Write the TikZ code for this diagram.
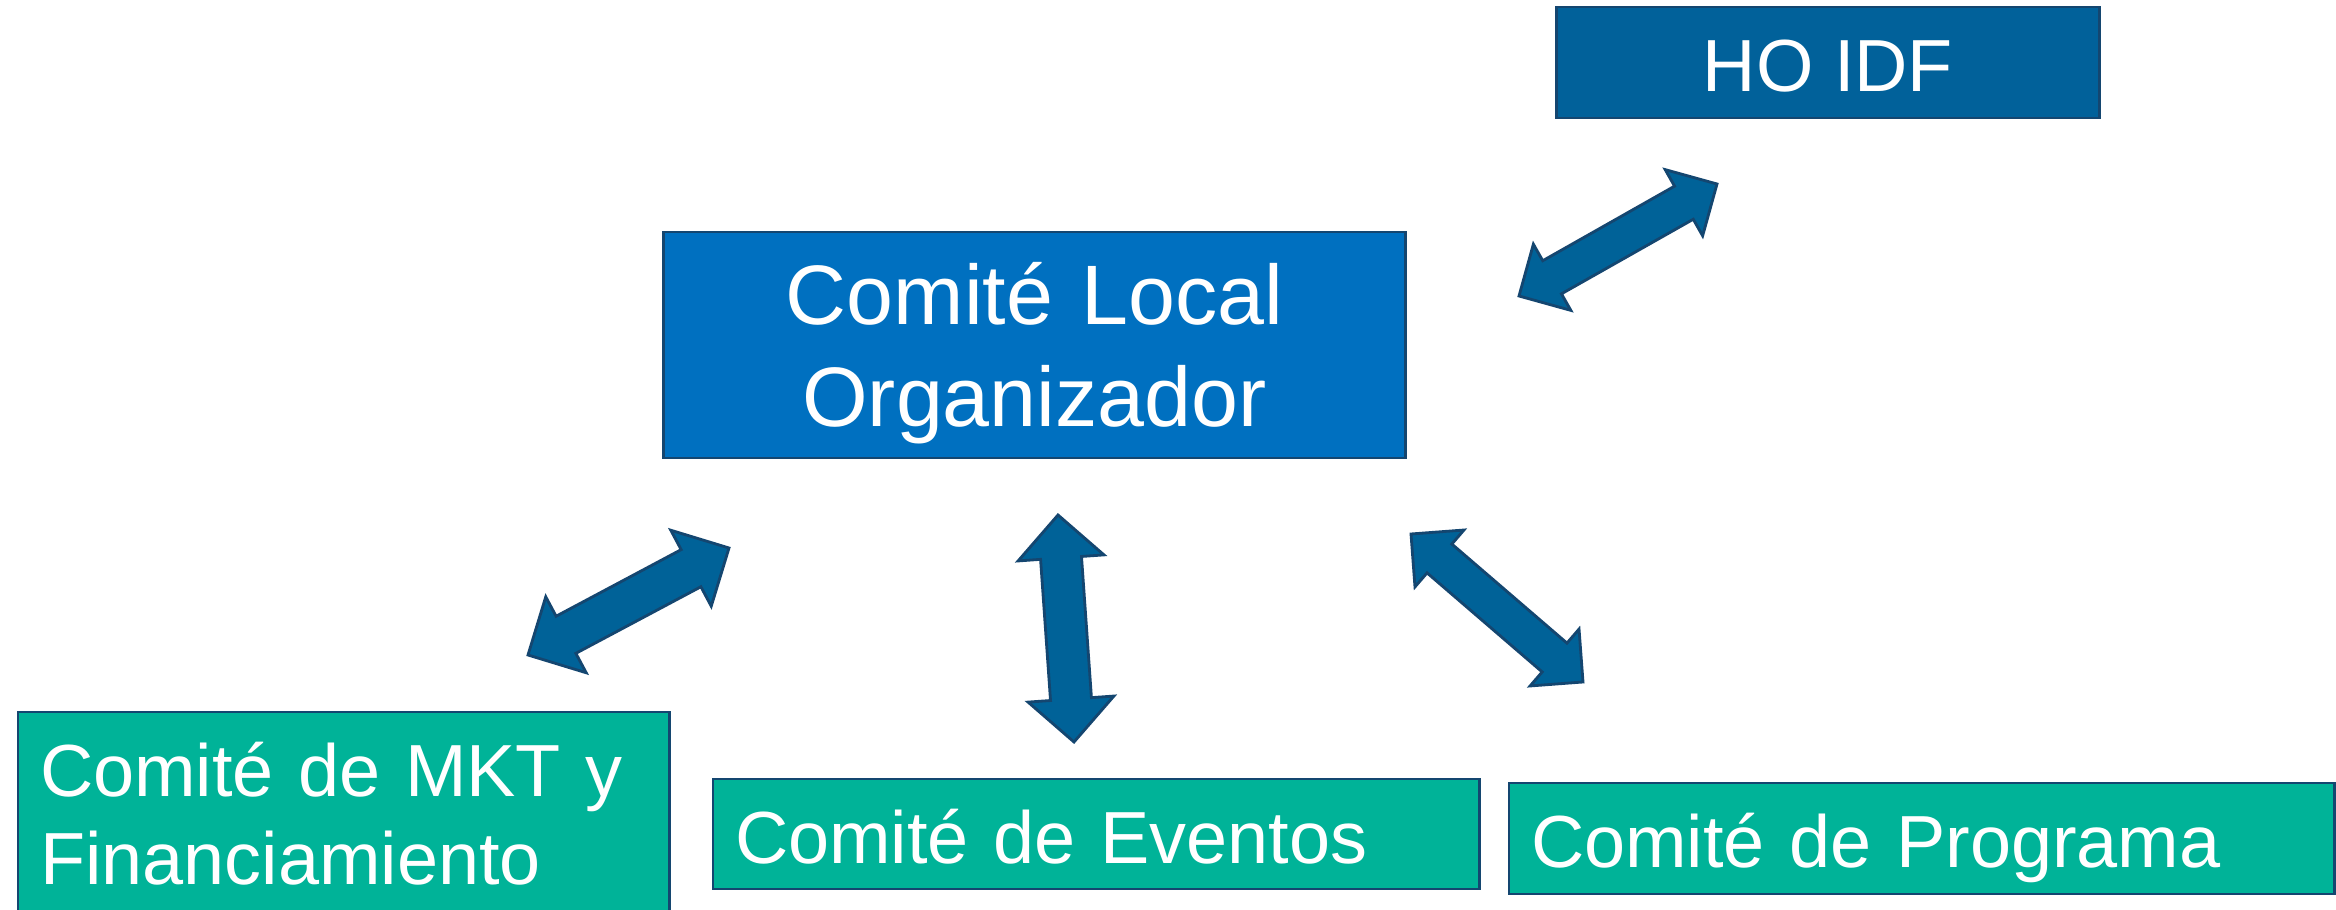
\documentclass[tikz,border=0pt]{standalone}
\usepackage{fontspec}
\setmainfont{Liberation Sans}
\usetikzlibrary{positioning,calc}
\definecolor{hoblue}{RGB}{1,97,154}
\definecolor{cloblue}{RGB}{0,112,192}
\definecolor{comgreen}{RGB}{0,179,152}
\definecolor{edgenavy}{RGB}{20,70,112}
\definecolor{arrowblue}{RGB}{0,98,152}

\newcommand\boxfont{\fontsize{21}{25.2}\selectfont}
\newcommand\clofont{\fontsize{24}{28.8}\selectfont}
% block arrow with a head at both ends, between two named coordinates
% #3 = head length and half head width, #4 = half shaft width
\newcommand\dblarrow[4]{%
  \filldraw[arrowbody] (#1)
    -- ($(#1)!#3!(#2)!#3!90:(#2)$)
    -- ($(#1)!#3!(#2)!#4!90:(#2)$)
    -- ($(#2)!#3!(#1)!#4!-90:(#1)$)
    -- ($(#2)!#3!(#1)!#3!-90:(#1)$)
    -- (#2)
    -- ($(#2)!#3!(#1)!#3!90:(#1)$)
    -- ($(#2)!#3!(#1)!#4!90:(#1)$)
    -- ($(#1)!#3!(#2)!#4!-90:(#2)$)
    -- ($(#1)!#3!(#2)!#3!-90:(#2)$)
    -- cycle;}

\tikzset{
  comite/.style={draw=edgenavy, line width=0.8pt, text=white, inner sep=0pt, outer sep=0pt},
  onerow/.style={text height=0.58cm, text depth=0pt, font=\boxfont},
  greenbox/.style={comite, fill=comgreen, inner xsep=0.22cm, align=left},
  arrowbody/.style={fill=arrowblue, draw=edgenavy, line width=0.8pt, line join=miter}
}

\begin{document}
\begin{tikzpicture}[x=0.01cm, y=-0.01cm]
  \clip (0,0) rectangle (2336,910);
  \fill[white] (0,0) rectangle (2336,910);
  % boxes
  \node [comite, onerow, fill=hoblue, minimum width=5.42cm, minimum height=1.11cm] (HO) at (1828,62.5) {HO IDF};
  \node [comite, fill=cloblue, minimum width=7.41cm, minimum height=2.26cm, text width=7cm, align=center,
         text height=0.62cm, text depth=1.02cm, font=\clofont] (CLO) at (1034.5,345) {Comité Local\\Organizador};
  \node [greenbox, anchor=north west, minimum width=6.51cm, text width=6.07cm, inner ysep=0.24cm,
         text height=0.6cm, text depth=3cm, font=\boxfont] (MKT) at (18,712) {Comité de MKT y\\Financiamiento};
  \node [greenbox, onerow, anchor=west, minimum width=7.66cm, minimum height=1.10cm, text width=7.22cm] (EVT) at (713,834) {Comité de Eventos};
  \node [greenbox, onerow, anchor=west, minimum width=8.25cm, minimum height=1.11cm, text width=7.81cm] (PRG) at (1509,838.5) {Comité de Programa};
  % arrow ends
  \coordinate (hoA) at (1519,296);
  \coordinate (hoB) at (1717,184);
  \coordinate (mktA) at (528,655);
  \coordinate (mktB) at (729,548);
  \coordinate (evtA) at (1058,515);
  \coordinate (evtB) at (1074,742);
  \coordinate (prgA) at (1411,534);
  \coordinate (prgB) at (1583,682);
  % arrows
  \dblarrow{hoA}{hoB}{0.38cm}{0.19cm}
  \dblarrow{mktA}{mktB}{0.43cm}{0.21cm}
  \dblarrow{evtA}{evtB}{0.43cm}{0.205cm}
  \dblarrow{prgA}{prgB}{0.375cm}{0.19cm}
\end{tikzpicture}
\end{document}
